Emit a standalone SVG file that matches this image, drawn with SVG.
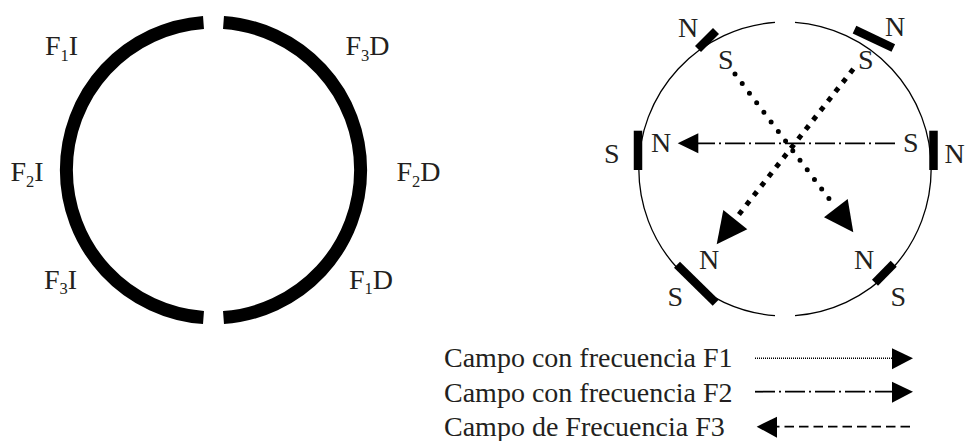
<svg xmlns="http://www.w3.org/2000/svg" width="965" height="441" viewBox="0 0 965 441">
<style>
text{font-family:"Liberation Serif","Times New Roman",serif;font-size:28px;fill:#231f20}
.sub{font-size:16.5px}
.ring{fill:none;stroke:#000;stroke-width:13}
.rim{fill:none;stroke:#000;stroke-width:1.3}
.mag{stroke:#000;stroke-width:8.5;fill:none}
.head{fill:#000}
</style>
<rect width="965" height="441" fill="#fff"/>
<g id="ring-left">
<path class="ring" d="M203.5 22.4A148 148 0 0 0 203.5 317.6"/>
<path class="ring" d="M223.5 22.4A148 148 0 0 1 223.5 317.6"/>
</g>
<g id="labels-left">
<text x="45" y="55">F<tspan class="sub" dy="5.5">1</tspan><tspan dy="-5.5">I</tspan></text>
<text x="345.5" y="55">F<tspan class="sub" dy="5.5">3</tspan><tspan dy="-5.5">D</tspan></text>
<text x="10.5" y="181">F<tspan class="sub" dy="5.5">2</tspan><tspan dy="-5.5">I</tspan></text>
<text x="396.5" y="181">F<tspan class="sub" dy="5.5">2</tspan><tspan dy="-5.5">D</tspan></text>
<text x="44" y="288.5">F<tspan class="sub" dy="5.5">3</tspan><tspan dy="-5.5">I</tspan></text>
<text x="349" y="288.5">F<tspan class="sub" dy="5.5">1</tspan><tspan dy="-5.5">D</tspan></text>
</g>
<g id="stator-right">
<path class="rim" d="M775 22.4A147 147 0 0 0 775 315.6"/>
<path class="rim" d="M795 22.4A147 147 0 0 1 795 315.6"/>
</g>
<g id="magnets">
<path class="mag" d="M638 130.7V170"/>
<path class="mag" d="M933.5 130.7V170"/>
<path class="mag" d="M716 31L698 49"/>
<path class="mag" d="M854.5 29.7L893.3 48"/>
<path class="mag" d="M677 264.7L715.7 302.7"/>
<path class="mag" d="M893.7 263.7L875 282.7"/>
</g>
<g id="connectors">
<path d="M735 74L833 204" fill="none" stroke="#000" stroke-width="5" stroke-linecap="round" stroke-dasharray="0 12"/>
<path class="head" d="M853.3 232.3L824 217.3L847.7 199Z"/>
<path d="M853.3 69L733 222" fill="none" stroke="#000" stroke-width="5" stroke-dasharray="5 7"/>
<path class="head" d="M716.7 244.3L723.3 210L747.3 229.3Z"/>
<path d="M895 143.3H698" fill="none" stroke="#000" stroke-width="1.8" stroke-dasharray="20 4 2 4"/>
<path class="head" d="M677.7 143.3L698.3 133.3V153.3Z"/>
</g>
<g id="labels-right">
<text x="678" y="36.5">N</text>
<text x="885" y="36">N</text>
<text x="718" y="69">S</text>
<text x="858" y="69">S</text>
<text x="651" y="152">N</text>
<text x="903" y="152">S</text>
<text x="604" y="163">S</text>
<text x="944.5" y="163">N</text>
<text x="699" y="269">N</text>
<text x="854" y="269">N</text>
<text x="667.5" y="305.5">S</text>
<text x="890.5" y="305.5">S</text>
</g>
<g id="legend">
<text x="444" y="367">Campo con frecuencia F1</text>
<text x="444" y="401.5">Campo con frecuencia F2</text>
<text x="444" y="436">Campo de Frecuencia F3</text>
<path d="M755 358.3H892" fill="none" stroke="#000" stroke-width="1.6" stroke-dasharray="1 1"/>
<path class="head" d="M892 348.3L913 358.3L892 369.3Z"/>
<path d="M755 391.7H892" fill="none" stroke="#000" stroke-width="1.8" stroke-dasharray="20 4 2 4"/>
<path class="head" d="M892 381.7L913 391.7L892 402.7Z"/>
<path d="M910 426.7H777" fill="none" stroke="#000" stroke-width="1.8" stroke-dasharray="9.5 5"/>
<path class="head" d="M756.7 426.7L777 416.7V437.7Z"/>
</g>
</svg>
